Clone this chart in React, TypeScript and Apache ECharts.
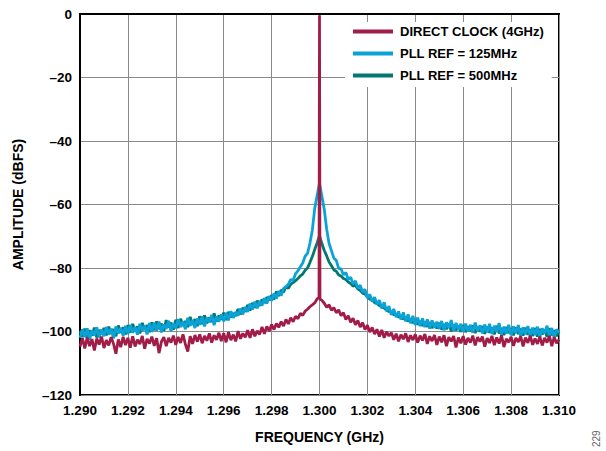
import React, { useEffect, useRef } from "react";
import * as echarts from "echarts";

const FREQ_START = 1.29;
const FREQ_STEP = 0.0001;

const X_MIN = 1.29;
const X_MAX = 1.31;
const X_INTERVAL = 0.002;
const Y_MIN = -120;
const Y_MAX = 0;
const Y_INTERVAL = 20;

const SERIES_NAMES = ["DIRECT CLOCK (4GHz)", "PLL REF = 125MHz", "PLL REF = 500MHz"];

const pll125 = [
  -102.0, -99.3, -101.8, -99.0, -102.6, -99.6, -101.2, -98.7, -101.9, -99.4,
  -101.5, -98.6, -100.9, -99.1, -102.2, -98.4, -100.6, -98.9, -101.3, -98.2,
  -100.8, -97.9, -100.4, -98.6, -101.0, -97.6, -99.8, -98.1, -100.9, -97.3,
  -100.1, -97.2, -99.7, -96.9, -100.3, -97.8, -99.2, -96.6, -99.9, -97.4,
  -99.0, -96.1, -98.6, -96.8, -99.3, -95.7, -98.2, -96.4, -98.9, -95.9,
  -97.9, -95.2, -98.4, -95.6, -97.1, -94.8, -98.0, -95.3, -96.9, -94.6,
  -96.8, -94.1, -96.5, -93.6, -95.7, -93.9, -95.0, -92.8, -94.6, -92.3,
  -93.8, -91.2, -93.1, -90.6, -92.7, -90.4, -91.8, -89.5, -91.2, -88.9,
  -90.3, -88.0, -89.6, -87.3, -88.7, -86.4, -85.9, -85.1, -83.6, -83.9,
  -81.8, -80.9, -79.6, -78.4, -76.3, -75.4, -72.2, -68.1, -61.3, -57.2,
  -53.3,
  -57.4, -61.6, -67.8, -72.3, -74.6, -76.9, -77.6, -80.1, -80.3,
  -82.1, -81.4, -83.6, -82.9, -85.0, -84.1, -86.3, -85.4, -87.6, -86.7,
  -89.4, -88.3, -90.6, -89.2, -91.5, -90.1, -92.7, -90.8, -93.6, -92.0,
  -94.8, -92.9, -95.5, -93.7, -96.2, -94.0, -96.8, -94.6, -97.4, -95.1,
  -97.9, -95.6, -98.3, -95.9, -98.6, -96.2, -99.1, -96.5, -98.8, -96.9,
  -99.2, -96.7, -99.6, -97.1, -98.9, -96.4, -99.8, -97.3, -99.5, -97.6,
  -100.1, -97.5, -99.9, -97.9, -100.4, -97.2, -99.7, -98.1, -100.6, -97.8,
  -100.3, -97.6, -100.8, -98.2, -100.1, -97.4, -101.0, -98.5, -100.7, -97.9,
  -101.2, -98.4, -100.5, -98.0, -101.4, -98.7, -100.9, -98.3, -101.6, -98.8,
  -101.1, -98.5, -101.8, -99.0, -100.6, -98.2, -101.5, -98.9, -102.0, -99.3,
  -100.4,
];

const pll500 = [
  -99.8, -101.7, -99.1, -102.0, -99.6, -101.3, -98.8, -101.9, -99.5, -100.8,
  -98.9, -101.2, -98.5, -100.7, -99.3, -101.5, -98.1, -100.4, -98.7, -100.9,
  -98.0, -100.3, -97.6, -99.9, -98.4, -100.6, -97.3, -99.5, -98.0, -100.2,
  -97.1, -99.6, -96.8, -99.2, -97.5, -99.8, -96.4, -98.7, -97.2, -99.4,
  -96.3, -98.9, -96.0, -98.2, -96.7, -98.6, -95.4, -97.9, -96.1, -98.3,
  -95.2, -97.7, -94.9, -97.4, -95.6, -97.0, -94.3, -96.8, -95.0, -96.2,
  -94.1, -96.4, -93.8, -95.5, -94.2, -95.1, -92.9, -94.6, -92.5, -93.8,
  -91.6, -93.4, -91.0, -92.5, -90.3, -91.9, -89.9, -91.0, -89.2, -90.1,
  -88.6, -89.9, -87.4, -88.8, -86.9, -87.6, -85.8, -86.4, -85.1, -84.6,
  -84.0, -83.3, -82.5, -81.9, -80.7, -80.0, -78.3, -76.4, -74.2, -72.1,
  -69.8,
  -72.3, -74.5, -76.2, -78.1, -79.3, -80.6, -81.0, -82.2, -82.5,
  -83.3, -83.6, -84.4, -84.9, -85.7, -85.4, -86.6, -87.1, -87.9, -88.2,
  -89.1, -89.8, -90.0, -90.9, -91.2, -91.8, -92.3, -92.6, -93.3, -93.7,
  -93.9, -94.7, -94.6, -95.5, -95.1, -96.1, -95.6, -96.8, -96.0, -97.3,
  -96.4, -97.8, -96.7, -98.2, -97.0, -98.5, -97.1, -98.9, -97.4, -99.0,
  -97.3, -99.4, -97.7, -99.3, -97.5, -99.9, -97.9, -99.6, -98.2, -100.1,
  -98.0, -100.2, -98.4, -99.8, -98.1, -100.5, -98.6, -100.0, -98.3, -100.7,
  -98.5, -100.4, -98.8, -100.9, -98.2, -100.6, -98.9, -101.1, -98.6, -100.5,
  -99.0, -101.2, -98.7, -100.8, -99.1, -101.3, -98.8, -101.0, -99.3, -101.4,
  -98.9, -101.6, -99.2, -100.9, -99.4, -101.7, -99.0, -101.2, -99.6, -101.5,
  -99.7,
];

const directClock = [
  -104.8, -102.1, -105.3, -101.9, -104.6, -102.4, -106.0, -102.2, -104.1, -101.6,
  -105.2, -102.7, -104.4, -101.8, -103.9, -107.0, -102.5, -104.9, -101.7, -104.3,
  -102.0, -105.1, -101.5, -104.7, -102.6, -104.0, -101.4, -105.4, -102.3, -103.8,
  -101.6, -104.5, -102.1, -106.8, -103.2, -101.8, -104.6, -102.0, -103.5, -101.3,
  -104.2, -101.7, -103.6, -100.9, -104.0, -106.3, -101.5, -103.9, -101.1, -103.2,
  -100.9, -103.7, -101.4, -102.9, -100.6, -103.5, -101.2, -102.6, -100.4, -103.0,
  -100.5, -103.4, -100.2, -102.7, -101.0, -103.1, -99.9, -102.3, -100.6, -101.8,
  -99.6, -102.0, -99.3, -101.5, -99.8, -100.9, -98.6, -100.7, -98.4, -99.9,
  -97.8, -99.4, -97.5, -98.7, -96.9, -98.3, -96.2, -97.6, -95.7, -96.9,
  -95.2, -96.0, -94.3, -94.9, -93.6, -93.0, -92.2, -91.6, -91.0, -89.8,
  -0.4,
  -90.2, -91.1, -92.4, -91.6, -93.3, -92.5, -94.1, -93.2, -95.0,
  -94.1, -96.2, -95.0, -97.1, -95.8, -97.9, -96.5, -98.6, -97.2, -99.4,
  -98.0, -100.2, -98.7, -100.8, -99.3, -101.6, -99.5, -102.0, -100.1, -101.4,
  -100.4, -102.6, -100.7, -103.1, -101.0, -102.4, -100.6, -103.3, -101.2, -102.7,
  -100.9, -103.5, -101.3, -102.8, -100.8, -103.9, -101.5, -103.0, -101.1, -104.2,
  -101.6, -103.4, -101.2, -104.6, -101.8, -103.1, -101.4, -105.0, -101.9, -103.7,
  -101.5, -104.1, -102.0, -103.5, -101.3, -104.4, -101.8, -103.2, -101.6, -104.8,
  -102.1, -103.6, -101.4, -104.3, -101.9, -103.8, -101.2, -104.9, -102.3, -103.4,
  -101.7, -104.5, -102.0, -103.3, -101.5, -104.7, -101.9, -103.6, -101.3, -104.2,
  -102.2, -103.9, -101.6, -104.4, -102.0, -103.5, -101.4, -104.6, -101.8, -103.7,
  -102.5,
];

// extra points right beside the carrier of the direct-clock trace (spike base)
const directPeakFreqs = [1.29998, 1.30002];
const directPeakValues = [-89.2, -89.8];

const COLORS = {
  direct: "#A11D48",
  pll125: "#0BA2D8",
  pll500: "#04786F",
};

function toPairs(values: number[], extraF: number[] = [], extraV: number[] = []) {
  const pts: [number, number][] = values.map((v, i) => [
    +(FREQ_START + i * FREQ_STEP).toFixed(5),
    v,
  ]);
  extraF.forEach((f, k) => pts.push([f, extraV[k]]));
  pts.sort((a, b) => a[0] - b[0]);
  return pts;
}

const FONT = "'Liberation Sans', Arial, sans-serif";

export default function App() {
  const ref = useRef<HTMLDivElement>(null);

  useEffect(() => {
    if (!ref.current) return;
    const chart = echarts.init(ref.current, undefined, { renderer: "svg" });
    chart.setOption({
      animation: false,
      backgroundColor: "#fff",
      textStyle: { fontFamily: FONT },
      grid: {
        left: 80,
        right: 47,
        top: 14,
        bottom: 56,
        show: true,
        borderColor: "#000",
        borderWidth: 2,
        backgroundColor: "transparent",
      },
      legend: {
        data: SERIES_NAMES,
        orient: "vertical",
        left: 345,
        top: 22,
        padding: [3, 8, 5, 8],
        itemGap: 9,
        itemWidth: 40,
        itemHeight: 4,
        icon: "rect",
        backgroundColor: "#fff",
        textStyle: {
          fontFamily: FONT,
          fontWeight: "bold",
          fontSize: 13,
          color: "#000",
          padding: [0, 0, 0, 2],
        },
        z: 10,
      },
      xAxis: {
        type: "value",
        min: X_MIN,
        max: X_MAX,
        interval: X_INTERVAL,
        name: "FREQUENCY (GHz)",
        nameLocation: "middle",
        nameGap: 35,
        nameTextStyle: { fontFamily: FONT, fontWeight: "bold", fontSize: 14, color: "#000" },
        axisLine: { show: true, lineStyle: { color: "#000", width: 2 } },
        axisTick: { show: false },
        axisLabel: {
          fontFamily: FONT,
          fontWeight: "bold",
          fontSize: 13.5,
          color: "#000",
          margin: 8,
          formatter: (v: number) => v.toFixed(3),
        },
        splitLine: { show: true, lineStyle: { color: "#8a8a8a", width: 1 } },
      },
      yAxis: {
        type: "value",
        min: Y_MIN,
        max: Y_MAX,
        interval: Y_INTERVAL,
        name: "AMPLITUDE (dBFS)",
        nameLocation: "middle",
        nameGap: 55,
        nameRotate: 90,
        nameTextStyle: { fontFamily: FONT, fontWeight: "bold", fontSize: 14, color: "#000" },
        axisLine: { show: true, lineStyle: { color: "#000", width: 2 } },
        axisTick: { show: false },
        axisLabel: {
          fontFamily: FONT,
          fontWeight: "bold",
          fontSize: 13.5,
          color: "#000",
          margin: 8,
          formatter: (v: number) => (v === 0 ? "0" : "\u2013" + Math.abs(v)),
        },
        splitLine: { show: true, lineStyle: { color: "#8a8a8a", width: 1 } },
      },
      series: [
        {
          name: SERIES_NAMES[2],
          type: "line",
          data: toPairs(pll500),
          showSymbol: false,
          symbol: "none",
          color: COLORS.pll500,
          lineStyle: { width: 2.8, color: COLORS.pll500 },
          z: 2,
        },
        {
          name: SERIES_NAMES[1],
          type: "line",
          data: toPairs(pll125),
          showSymbol: false,
          symbol: "none",
          color: COLORS.pll125,
          lineStyle: { width: 2.8, color: COLORS.pll125 },
          z: 3,
        },
        {
          name: SERIES_NAMES[0],
          type: "line",
          data: toPairs(directClock, directPeakFreqs, directPeakValues),
          showSymbol: false,
          symbol: "none",
          color: COLORS.direct,
          lineStyle: { width: 2.8, color: COLORS.direct },
          z: 4,
        },
      ],
      graphic: [
        {
          type: "text",
          x: 591,
          y: 447,
          rotation: Math.PI / 2,
          style: {
            text: "229",
            fontFamily: FONT,
            fontSize: 10,
            fill: "#666",
          },
        },
      ],
    });
    return () => chart.dispose();
  }, []);

  return <div ref={ref} style={{ width: 606, height: 451, position: "absolute", left: 0, top: 0 }} />;
}
